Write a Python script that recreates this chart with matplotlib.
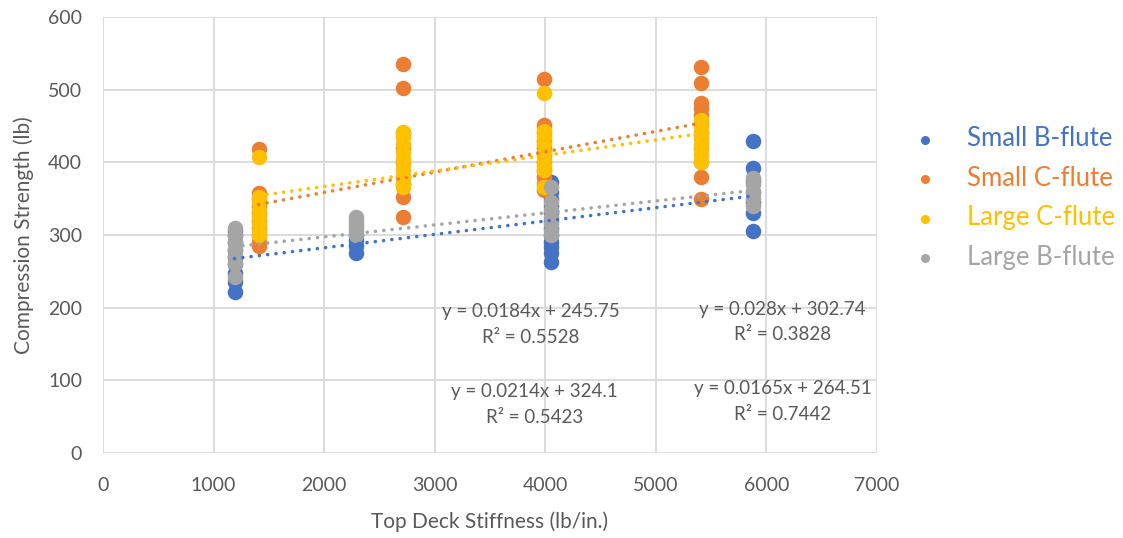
"""
Compression strength vs top deck stiffness, four flute types,
with linear trendlines (Excel style).
"""

import matplotlib
matplotlib.use("Agg")
import matplotlib.pyplot as plt
import numpy as np

plt.rcParams["font.family"] = ["Lato", "DejaVu Sans"]

# series names and colours
NAMES = ["Small B-flute", "Small C-flute", "Large C-flute", "Large B-flute"]
COLORS = ["#4472C4", "#ED7D31", "#FFC000", "#A5A5A5"]

# stiffness levels (lb/in.) and measured strengths (lb) per level
SMALL_B_STIFF = [1190, 2290, 4050, 5880]
SMALL_B_STRENGTH = [
    [222, 235, 248, 260, 270, 280, 290, 300, 305],
    [276, 285, 293, 300],
    [373, 360, 350, 340, 330, 320, 310, 300, 290, 283, 275, 263],
    [430, 392, 375, 360, 345, 330, 306],
]
SMALL_C_STIFF = [1410, 2710, 3990, 5410]
SMALL_C_STRENGTH = [
    [418, 358, 350, 340, 330, 320, 310, 300, 290, 285],
    [536, 502, 440, 420, 400, 380, 370, 352, 325],
    [515, 452, 440, 430, 420, 410, 400, 390, 380, 370, 362],
    [532, 510, 482, 475, 465, 455, 440, 420, 400, 380, 350],
]
LARGE_C_STIFF = [1410, 2710, 3990, 5410]
LARGE_C_STRENGTH = [
    [407, 352, 345, 335, 325, 315, 305, 300],
    [442, 435, 425, 415, 405, 398, 390, 380, 372, 366],
    [495, 444, 435, 425, 415, 405, 395, 389, 366],
    [458, 450, 440, 432, 425, 418, 410, 400],
]
LARGE_B_STIFF = [1190, 2290, 4050, 5880]
LARGE_B_STRENGTH = [
    [243, 260, 270, 280, 290, 300, 310],
    [300, 305, 310, 315, 320, 325],
    [366, 345, 335, 325, 315, 305, 300],
    [378, 370, 360, 350, 340],
]

# trendline fits as printed on the chart
SLOPES = [0.0184, 0.028, 0.0214, 0.0165]
INTERCEPTS = [245.75, 302.74, 324.1, 264.51]
R2 = [0.5528, 0.3828, 0.5423, 0.7442]
# where each equation label sits (data coords)
LABEL_POS = [(3870, 177), (6148, 180), (3906, 67), (6148, 71)]

series = [
    (SMALL_B_STIFF, SMALL_B_STRENGTH),
    (SMALL_C_STIFF, SMALL_C_STRENGTH),
    (LARGE_C_STIFF, LARGE_C_STRENGTH),
    (LARGE_B_STIFF, LARGE_B_STRENGTH),
]

TXT = "#595959"

fig = plt.figure(figsize=(11.23, 5.38), dpi=100)
ax = fig.add_axes([0.0917, 0.158, 0.689, 0.81])

for (stiff, strength), name, c in zip(series, NAMES, COLORS):
    xs = np.concatenate([[s] * len(v) for s, v in zip(stiff, strength)])
    ys = np.concatenate(strength)
    ax.scatter(xs, ys, s=125, color=c, label=name, zorder=3, linewidths=0)

# trendlines over the markers
for (stiff, _), c, m, b in zip(series, COLORS, SLOPES, INTERCEPTS):
    xx = np.array([min(stiff), max(stiff)])
    ax.plot(xx, m * xx + b, color=c, lw=2.6, linestyle=(0, (0.01, 2.3)),
            dash_capstyle="round", zorder=4)

for (x, y), m, b, r in zip(LABEL_POS, SLOPES, INTERCEPTS, R2):
    ax.text(x, y, f"y = {m:g}x + {b:g}\nR² = {r:.4f}", ha="center", va="center",
            fontsize=13.5, color=TXT, linespacing=1.6, zorder=5)

ax.set_xlim(0, 7000)
ax.set_ylim(0, 600)
ax.set_xticks(np.arange(0, 7001, 1000))
ax.set_yticks(np.arange(0, 601, 100))
ax.grid(True, color="#D9D9D9", lw=1.3)
ax.set_axisbelow(True)
for s in ax.spines.values():
    s.set_visible(False)
ax.tick_params(length=0, labelsize=14, labelcolor=TXT)
ax.tick_params(axis="x", pad=17)
ax.tick_params(axis="y", pad=15)
ax.set_xlabel("Top Deck Stiffness (lb/in.)", fontsize=15, color=TXT, labelpad=13)
ax.set_ylabel("Compression Strength (lb)", fontsize=15, color=TXT, labelpad=10)

leg = ax.legend(loc="center left", bbox_to_anchor=(0.999, 0.585), frameon=False,
                fontsize=18.5, markerscale=0.58, labelspacing=0.56,
                handletextpad=0.63)
for t, c in zip(leg.get_texts(), COLORS):
    t.set_color(c)

plt.savefig("out.png", dpi=100)
